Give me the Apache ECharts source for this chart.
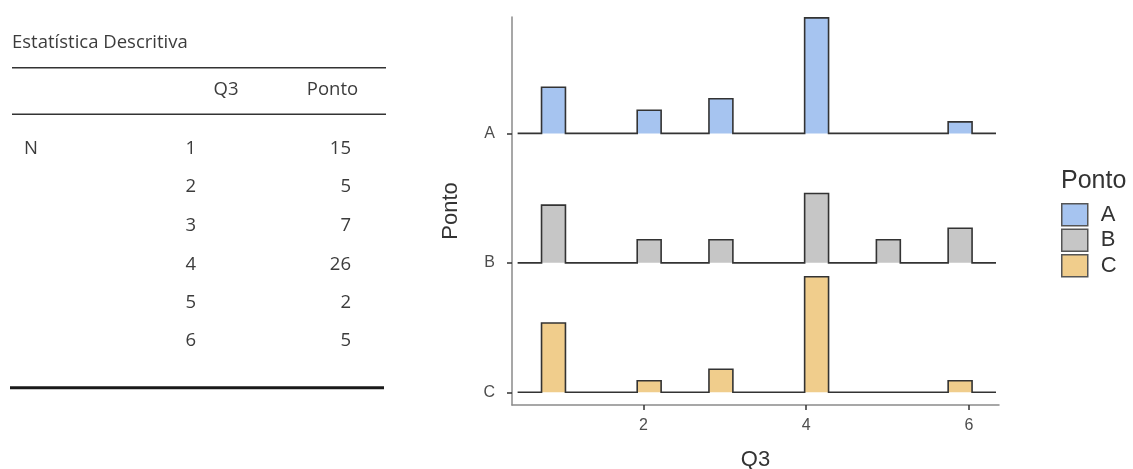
<!DOCTYPE html>
<html>
<head>
<meta charset="utf-8">
<script src="https://cdn.jsdelivr.net/npm/echarts@6/dist/echarts.min.js"></script>
<style>
html,body{margin:0;padding:0;background:#fff;}
#chart{width:1133px;height:469px;}
</style>
</head>
<body>
<div id="chart"></div>
<script>
// ---- data ----
const groups = ['A', 'B', 'C'];
const q3Values = [1, 2, 3, 4, 5, 6];
const countsA = [4, 2, 3, 10, 0, 1];
const countsB = [5, 2, 2, 6, 2, 3];
const countsC = [6, 1, 2, 10, 0, 1];
const tablePonto = [15, 5, 7, 26, 2, 5];
const xTicks = [2, 4, 6];
// histogram bins (binline): 20 bins starting at binStart, each binWidth wide
const binStart = 0.453;
const binWidth = 0.294;
const binTotal = 20;
const binIndex = [1, 5, 8, 12, 15, 18];   // bin holding each Q3 value
const rowStep = 11.21;                    // vertical spacing of ridges (in counts)

const fills = ['#a6c4f0', '#c6c6c6', '#f0cd8c'];
const allCounts = [countsA, countsB, countsC];
const rowOffsets = groups.map((g, i) => (groups.length - 1 - i) * rowStep);

function ridgeRender(params, api) {
  const off = api.value(0);
  const pts = [api.coord([binStart, off])];
  for (let i = 0; i < binIndex.length; i++) {
    const c = api.value(i + 1);
    if (c > 0) {
      const x0 = binStart + binIndex[i] * binWidth, x1 = x0 + binWidth;
      pts.push(api.coord([x0, off]), api.coord([x0, off + c]),
               api.coord([x1, off + c]), api.coord([x1, off]));
    }
  }
  pts.push(api.coord([binStart + binTotal * binWidth, off]));
  return {
    type: 'group',
    children: [
      { type: 'polygon', shape: { points: pts }, style: { fill: api.visual('color'), stroke: null } },
      { type: 'polyline', shape: { points: pts }, style: { fill: null, stroke: '#333333', lineWidth: 1.6 } }
    ]
  };
}

const series = groups.map((g, gi) => ({
  type: 'custom',
  name: g,
  renderItem: ridgeRender,
  itemStyle: { color: fills[gi] },
  encode: { x: 1, y: 0 },
  data: [[rowOffsets[gi]].concat(allCounts[gi])],
  z: 3 - gi
}));

// ---- table drawn as graphics ----
const tFont = '"Open Sans", sans-serif';
const tColor = '#3c3c3c';
const tSize = 18.5;
const rowY = [148.3, 186.7, 225.7, 264.3, 302.7, 341];
const tableEls = [
  { type: 'text', left: 12, top: 33, style: { text: 'Estatística Descritiva', font: tSize + 'px ' + tFont, fill: tColor } },
  { type: 'line', shape: { x1: 12, y1: 67.7, x2: 386, y2: 67.7 }, style: { stroke: '#333', lineWidth: 1.5 } },
  { type: 'text', x: 226, y: 90, style: { text: 'Q3', font: tSize + 'px ' + tFont, fill: tColor, align: 'center', verticalAlign: 'middle' } },
  { type: 'text', x: 332.5, y: 90, style: { text: 'Ponto', font: tSize + 'px ' + tFont, fill: tColor, align: 'center', verticalAlign: 'middle' } },
  { type: 'line', shape: { x1: 12, y1: 114.3, x2: 386, y2: 114.3 }, style: { stroke: '#333', lineWidth: 1.5 } },
  { type: 'text', x: 24, y: rowY[0], style: { text: 'N', font: tSize + 'px ' + tFont, fill: tColor, align: 'left', verticalAlign: 'middle' } },
  { type: 'line', shape: { x1: 10, y1: 387.7, x2: 384, y2: 387.7 }, style: { stroke: '#1a1a1a', lineWidth: 3 } }
];
q3Values.forEach((v, i) => {
  tableEls.push({ type: 'text', x: 196, y: rowY[i], style: { text: String(v), font: tSize + 'px ' + tFont, fill: tColor, align: 'right', verticalAlign: 'middle' } });
  tableEls.push({ type: 'text', x: 351, y: rowY[i], style: { text: String(tablePonto[i]), font: tSize + 'px ' + tFont, fill: tColor, align: 'right', verticalAlign: 'middle' } });
});
tableEls.push({ type: 'text', left: 1061, top: 169, style: { text: 'Ponto', font: '25px "Liberation Sans", Arial, sans-serif', fill: '#333' } });

const chart = echarts.init(document.getElementById('chart'));
chart.setOption({
  animation: false,
  backgroundColor: '#ffffff',
  grid: { left: 512, right: 134, top: 17, bottom: 64, containLabel: false, outerBoundsMode: 'none' },
  xAxis: {
    type: 'value', min: 0.384, max: 6.37,
    name: 'Q3', nameLocation: 'middle', nameGap: 44,
    nameTextStyle: { fontSize: 22, color: '#333', fontFamily: '"Liberation Sans", Arial, sans-serif' },
    axisLine: { onZero: false, lineStyle: { color: '#8a8a8a', width: 1.5 } },
    axisTick: { show: true, length: 5, lineStyle: { color: '#333', width: 1.5 }, customValues: xTicks },
    axisLabel: { customValues: xTicks, fontSize: 16, color: '#4d4d4d', margin: 13, fontFamily: '"Liberation Sans", Arial, sans-serif' },
    splitLine: { show: false }
  },
  yAxis: {
    type: 'value', min: -1.1, max: 32.5,
    name: 'Ponto', nameLocation: 'middle', nameGap: 50, nameRotate: 90,
    nameTextStyle: { fontSize: 22, color: '#333', fontFamily: '"Liberation Sans", Arial, sans-serif' },
    axisLine: { onZero: false, lineStyle: { color: '#8a8a8a', width: 1.5 } },
    axisTick: { show: true, length: 5, lineStyle: { color: '#333', width: 1.5 }, customValues: rowOffsets },
    axisLabel: {
      customValues: rowOffsets, fontSize: 16, color: '#4d4d4d', margin: 17,
      fontFamily: '"Liberation Sans", Arial, sans-serif',
      formatter: function (v) {
        let best = 0;
        rowOffsets.forEach((o, i) => { if (Math.abs(o - v) < Math.abs(rowOffsets[best] - v)) best = i; });
        return groups[best];
      }
    },
    splitLine: { show: false }
  },
  legend: {
    data: groups, orient: 'vertical', left: 1061, top: 203,
    icon: 'rect', itemWidth: 26, itemHeight: 22, itemGap: 2, padding: 0,
    itemStyle: { borderColor: '#555', borderWidth: 1.5 },
    textStyle: { fontSize: 22, lineHeight: 22, color: '#333', padding: [0, 0, 0, 8], fontFamily: '"Liberation Sans", Arial, sans-serif' }
  },
  graphic: tableEls,
  series: series
});
</script>
</body>
</html>
